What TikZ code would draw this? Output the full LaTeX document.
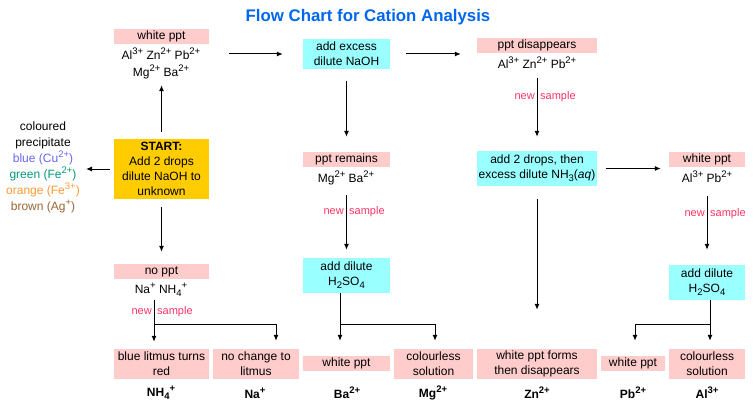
\documentclass[tikz,border=0pt]{standalone}
\usepackage{fontspec}
\setmainfont{Liberation Sans}
\usetikzlibrary{arrows.meta,calc}
\definecolor{pinkfill}{HTML}{FFCCCC}
\definecolor{cyanfill}{HTML}{99FFFF}
\definecolor{goldfill}{HTML}{FFCC00}
\definecolor{titleblue}{HTML}{0066EE}
\definecolor{newred}{HTML}{FF3366}
\definecolor{cublue}{HTML}{6666FF}
\definecolor{fegreen}{HTML}{009977}
\definecolor{feorange}{HTML}{FF9933}
\definecolor{agbrown}{HTML}{996633}
\newcommand{\sps}[1]{\raisebox{0.42em}{\fontsize{9.5}{10}\selectfont #1}}
\newcommand{\sbs}[1]{\raisebox{-0.25em}{\fontsize{9.5}{10}\selectfont #1}}
\begin{document}
\begin{tikzpicture}[x=1pt,y=-1pt,
  base/.style={font=\fontsize{12}{15}\selectfont, inner sep=0pt, align=center, text=black},
  pbox/.style={base, fill=pinkfill, minimum height=15pt},
  pbox2/.style={base, fill=pinkfill, minimum height=30pt},
  cbox/.style={base, fill=cyanfill, minimum height=30pt},
  ions/.style={base, font=\fontsize{12}{17}\selectfont},
  res/.style={base, font=\bfseries\fontsize{12}{15}\selectfont},
  newlbl/.style={inner sep=0pt, font=\fontsize{11}{13}\selectfont, text=newred},
  arr/.style={line width=1pt, -{Latex[length=6pt,width=5pt]}},
  ln/.style={line width=1pt}
]
\useasboundingbox (0,0) rectangle (754,409);

% title
\node[font=\bfseries\fontsize{16.8}{20}\selectfont, text=titleblue, inner sep=0pt] (title) at (368,17) {Flow Chart for Cation Analysis};

% left column
\node[pbox, minimum width=95pt] (wp1) at (161.5,36.5) {white ppt};
\node[ions] (ions1) at (161,63.5) {Al\sps{3+} Zn\sps{2+} Pb\sps{2+}\\Mg\sps{2+} Ba\sps{2+}};
\node[base, fill=goldfill, minimum width=95pt, minimum height=60pt] (start) at (161.5,169) {\textbf{START:}\\Add 2 drops\\dilute NaOH to\\unknown};
\node[base, font=\fontsize{12}{16}\selectfont] (col) at (43,167) {coloured\\precipitate\\\textcolor{cublue}{blue (Cu\sps{2+})}\\\textcolor{fegreen}{green (Fe\sps{2+})}\\\textcolor{feorange}{orange (Fe\sps{3+})}\\\textcolor{agbrown}{brown (Ag\sps{+})}};
\coordinate (colarr) at (86,169);
\node[pbox, minimum width=95pt] (noppt) at (161.5,271.5) {no ppt};
\node[ions] (ions4) at (161,290) {Na\sps{+} NH\sbs{4}\sps{+}};
\node[pbox2, minimum width=95pt] (litmus) at (161.5,364) {blue litmus turns\\red};
\node[pbox2, minimum width=86pt] (nochange) at (256,364) {no change to\\litmus};
\node[res] (rnh4) at (161,393) {NH\sbs{4}\sps{+}};
\node[res] (rna) at (255,393) {Na\sps{+}};

% middle column
\node[cbox, minimum width=87pt] (addex) at (346.5,54) {add excess\\dilute NaOH};
\node[pbox, minimum width=87pt] (pptrem) at (346.5,159.5) {ppt remains};
\node[ions] (ions2) at (346,178) {Mg\sps{2+} Ba\sps{2+}};
\node[cbox, minimum width=87pt, minimum height=35pt] (addh1) at (346.5,275.5) {add dilute\\H\sbs{2}SO\sbs{4}};
\node[pbox, minimum width=87pt] (ba) at (346.5,363.5) {white ppt};
\node[pbox2, minimum width=79pt] (mg) at (433.5,364) {colourless\\solution};
\node[res] (rba) at (347,393) {Ba\sps{2+}};
\node[res] (rmg) at (433,393) {Mg\sps{2+}};

% right-middle column
\node[pbox, minimum width=120pt] (pptdis) at (537,45.5) {ppt disappears};
\node[ions] (ions3) at (537,63) {Al\sps{3+} Zn\sps{2+} Pb\sps{2+}};
\node[cbox, minimum width=120pt, minimum height=35pt] (add2) at (537,168.5) {add 2 drops, then\\excess dilute NH\sbs{3}(\textit{aq})};
\node[pbox2, minimum width=120pt] (zn) at (537,364) {white ppt forms\\then disappears};
\node[res] (rzn) at (537,393) {Zn\sps{2+}};

% right column
\node[pbox, minimum width=76pt] (wp2) at (707,159.5) {white ppt};
\node[ions] (ions5) at (707,177) {Al\sps{3+} Pb\sps{2+}};
\node[cbox, minimum width=76pt, minimum height=35pt] (addh2) at (707,282.5) {add dilute\\H\sbs{2}SO\sbs{4}};
\node[pbox, minimum width=64pt] (pb) at (633,363.5) {white ppt};
\node[pbox2, minimum width=76pt] (al) at (707,364) {colourless\\solution};
\node[res] (rpb) at (633,393) {Pb\sps{2+}};
\node[res] (ral) at (707,393) {Al\sps{3+}};

% junctions
\coordinate (nj1) at (154,324);
\coordinate (nj2) at (276,324);
\coordinate (hj1) at (340,324);
\coordinate (hj2) at (435,324);
\coordinate (hj3) at (710,324);
\coordinate (hj4) at (635,324);

% connectors
\draw[arr, shorten <=7pt, shorten >=41pt] (start.north) -- (wp1.south);
\draw[arr, shorten <=20pt, shorten >=20pt] (wp1.east |- addex.west) -- (addex.west);
\draw[arr, shorten <=16pt, shorten >=16pt] (addex.east) -- (addex.east -| pptdis.west);
\draw[arr, shorten <=12pt, shorten >=15pt] (addex.south) -- (pptrem.north);
\draw[arr, shorten <=25pt, shorten >=14pt] (pptdis.south) -- (add2.north);
\draw[arr, shorten <=9pt, shorten >=8pt] (add2.east) -- (add2.east -| wp2.west);
\draw[arr, shorten <=29pt, shorten >=15pt] (wp2.south) -- (addh2.north);
\draw[arr, shorten <=28pt, shorten >=8pt] (pptrem.south) -- (addh1.north);
\draw[arr, shorten <=13pt, shorten >=39pt] (add2.south) -- (zn.north);
\draw[arr, shorten <=4pt] (start.west) -- (colarr);
\draw[arr, shorten <=8pt, shorten >=12pt] (start.south) -- (noppt.north);

\draw[arr, shorten <=21pt, shorten >=7pt] (noppt.south -| nj1) -- (nj1 |- litmus.north);
\draw[arr, shorten >=8pt] (nj1) -- (nj2) -- (nj2 |- nochange.north);

\draw[arr, shorten >=15pt] (addh1.south -| hj1) -- (hj1 |- ba.north);
\draw[arr, shorten >=8pt] (hj1) -- (hj2) -- (hj2 |- mg.north);

\draw[arr, shorten >=8pt] (addh2.south -| hj3) -- (hj3 |- al.north);
\draw[arr, shorten >=15pt] (hj3) -- (hj4) -- (hj4 |- pb.north);

% new sample labels
\node[newlbl, anchor=east] (ns1a) at (535,97) {new};
\node[newlbl, anchor=west] (ns1b) at (540,97) {sample};
\node[newlbl, anchor=east] (ns2a) at (344,212) {new};
\node[newlbl, anchor=west] (ns2b) at (349,212) {sample};
\node[newlbl, anchor=east] (ns3a) at (705,214) {new};
\node[newlbl, anchor=west] (ns3b) at (710,214) {sample};
\node[newlbl, anchor=east] (ns4a) at (152,312) {new};
\node[newlbl, anchor=west] (ns4b) at (157,312) {sample};
\end{tikzpicture}
\end{document}
